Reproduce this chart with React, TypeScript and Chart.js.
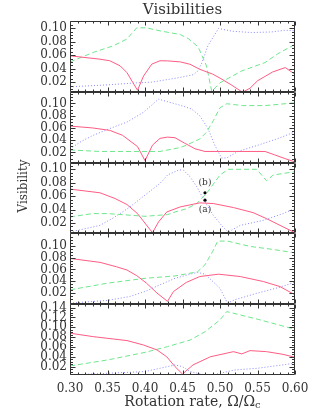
import React, { useEffect, useRef } from 'react';
import { Chart, registerables } from 'chart.js';
Chart.register(...registerables);

// ---------- data ----------
const xTickValues = [0.30, 0.35, 0.40, 0.45, 0.50, 0.55, 0.60];
const yTickValuesSmall = [0.02, 0.04, 0.06, 0.08, 0.10];
const yTickValuesLarge = [0.02, 0.04, 0.06, 0.08, 0.10, 0.12, 0.14];

const panelMin = [0.0057, 0.0034, 0.0045, 0.0012, 0.003];
const panelMax = [0.1106, 0.119, 0.110, 0.121, 0.147];

// panel 1
const p1RedX = [0.30, 0.32, 0.34, 0.353, 0.367, 0.376, 0.384, 0.39, 0.398, 0.409, 0.42, 0.43, 0.447, 0.46, 0.473, 0.49, 0.50, 0.515, 0.53, 0.54, 0.55, 0.57, 0.587, 0.60];
const p1RedY = [0.059, 0.0565, 0.054, 0.0517, 0.044, 0.034, 0.019, 0.008, 0.029, 0.0467, 0.0517, 0.0515, 0.050, 0.0465, 0.039, 0.032, 0.026, 0.016, 0.005, 0.011, 0.022, 0.035, 0.0416, 0.0316];
const p1GreenX = [0.30, 0.331, 0.358, 0.376, 0.389, 0.402, 0.42, 0.447, 0.458, 0.471, 0.482, 0.489, 0.50, 0.529, 0.56, 0.577, 0.60];
const p1GreenY = [0.050, 0.064, 0.074, 0.084, 0.1005, 0.1005, 0.096, 0.0905, 0.0844, 0.072, 0.044, 0.0064, 0.019, 0.0366, 0.049, 0.062, 0.076];
const p1BlueX = [0.30, 0.35, 0.389, 0.409, 0.447, 0.464, 0.470, 0.476, 0.484, 0.498, 0.516, 0.542, 0.569, 0.587, 0.60];
const p1BlueY = [0.013, 0.016, 0.019, 0.020, 0.027, 0.031, 0.036, 0.049, 0.0743, 0.0995, 0.0955, 0.0935, 0.0944, 0.097, 0.096];

// panel 2
const p2RedX = [0.30, 0.33, 0.353, 0.37, 0.39, 0.40, 0.41, 0.42, 0.43, 0.44, 0.453, 0.467, 0.48, 0.56, 0.573, 0.587, 0.60];
const p2RedY = [0.063, 0.060, 0.056, 0.048, 0.0296, 0.0066, 0.032, 0.043, 0.045, 0.044, 0.035, 0.0258, 0.0216, 0.0216, 0.016, 0.0098, 0.0045];
const p2GreenX = [0.30, 0.34, 0.42, 0.447, 0.455, 0.473, 0.482, 0.491, 0.50, 0.509, 0.53, 0.56, 0.60];
const p2GreenY = [0.024, 0.0216, 0.0216, 0.028, 0.0317, 0.042, 0.053, 0.0717, 0.093, 0.0995, 0.0965, 0.0965, 0.101];
const p2BlueX = [0.30, 0.315, 0.331, 0.353, 0.376, 0.398, 0.418, 0.447, 0.462, 0.473, 0.484, 0.493, 0.502, 0.509, 0.524, 0.551, 0.578, 0.60];
const p2BlueY = [0.026, 0.038, 0.048, 0.059, 0.0696, 0.0856, 0.107, 0.097, 0.091, 0.080, 0.059, 0.032, 0.011, 0.011, 0.0216, 0.032, 0.043, 0.0536];

// panel 3
const p3RedX = [0.30, 0.34, 0.36, 0.376, 0.39, 0.41, 0.418, 0.429, 0.447, 0.473, 0.491, 0.518, 0.544, 0.562, 0.58, 0.60];
const p3RedY = [0.0705, 0.065, 0.0565, 0.0475, 0.034, 0.0055, 0.0215, 0.0364, 0.044, 0.050, 0.049, 0.043, 0.0355, 0.0265, 0.0165, 0.0055];
const p3GreenX = [0.30, 0.33, 0.35, 0.40, 0.43, 0.44, 0.456, 0.469, 0.482, 0.50, 0.511, 0.549, 0.562, 0.571, 0.60];
const p3GreenY = [0.029, 0.034, 0.034, 0.030, 0.0325, 0.0364, 0.0415, 0.049, 0.064, 0.0915, 0.100, 0.100, 0.083, 0.0915, 0.0965];
const p3BlueX = [0.30, 0.34, 0.36, 0.38, 0.40, 0.42, 0.43, 0.445, 0.451, 0.46, 0.469, 0.48, 0.491, 0.504, 0.511, 0.527, 0.558, 0.584, 0.60];
const p3BlueY = [0.0065, 0.0165, 0.029, 0.044, 0.0615, 0.079, 0.0915, 0.099, 0.099, 0.089, 0.074, 0.0515, 0.0315, 0.014, 0.0065, 0.0165, 0.024, 0.034, 0.0415];
const markX = [0.48, 0.48];
const markY = [0.065, 0.054];
const markLabels = ['(b)', '(a)'];

// panel 4
const p4RedX = [0.30, 0.34, 0.362, 0.376, 0.389, 0.402, 0.416, 0.43, 0.438, 0.455, 0.473, 0.498, 0.527, 0.558, 0.58, 0.60];
const p4RedY = [0.0786, 0.072, 0.0645, 0.059, 0.0495, 0.0368, 0.020, 0.006, 0.0227, 0.038, 0.048, 0.052, 0.048, 0.0395, 0.031, 0.017];
const p4GreenX = [0.30, 0.35, 0.40, 0.44, 0.47, 0.48, 0.49, 0.497, 0.51, 0.54, 0.57, 0.60];
const p4GreenY = [0.0255, 0.0368, 0.045, 0.049, 0.056, 0.068, 0.090, 0.108, 0.108, 0.099, 0.094, 0.088];
const p4BlueX = [0.30, 0.35, 0.38, 0.40, 0.42, 0.44, 0.46, 0.47, 0.48, 0.50, 0.51, 0.52, 0.55, 0.58, 0.60];
const p4BlueY = [0.003, 0.0076, 0.0143, 0.0227, 0.034, 0.045, 0.052, 0.055, 0.052, 0.028, 0.003, 0.0088, 0.020, 0.030, 0.0385];

// panel 5
const p5RedX = [0.30, 0.331, 0.376, 0.398, 0.416, 0.429, 0.44, 0.45, 0.464, 0.487, 0.518, 0.529, 0.54, 0.562, 0.584, 0.60];
const p5RedY = [0.088, 0.081, 0.073, 0.064, 0.054, 0.040, 0.020, 0.005, 0.0235, 0.040, 0.0505, 0.0459, 0.0526, 0.0505, 0.045, 0.039];
const p5GreenX = [0.30, 0.35, 0.40, 0.43, 0.46, 0.48, 0.50, 0.509, 0.55, 0.60];
const p5GreenY = [0.0214, 0.0336, 0.049, 0.0607, 0.074, 0.091, 0.115, 0.132, 0.1165, 0.096];
const p5BlueX = [0.30, 0.40, 0.43, 0.44, 0.45, 0.46, 0.48, 0.49, 0.52, 0.55, 0.60];
const p5BlueY = [0.003, 0.010, 0.020, 0.0235, 0.020, 0.010, 0.003, 0.003, 0.0133, 0.0167, 0.027];

const titleText = 'Visibilities';
const yTitleText = 'Visibility';
const xTitleMain = 'Rotation rate, \u03A9/\u03A9';
const xTitleSub = 'c';

// ---------- styles ----------
const RED = '#ff5c84';
const GREEN = '#6ee68c';
const BLUE = '#8a8aff';
const INK = '#333333';
const FONT = 'DejaVu Serif';

const panelIds = ['p1', 'p2', 'p3', 'p4', 'p5'];
const series = [
  [p1RedX, p1RedY, p1GreenX, p1GreenY, p1BlueX, p1BlueY],
  [p2RedX, p2RedY, p2GreenX, p2GreenY, p2BlueX, p2BlueY],
  [p3RedX, p3RedY, p3GreenX, p3GreenY, p3BlueX, p3BlueY],
  [p4RedX, p4RedY, p4GreenX, p4GreenY, p4BlueX, p4BlueY],
  [p5RedX, p5RedY, p5GreenX, p5GreenY, p5BlueX, p5BlueY],
];

const zip = (xs: number[], ys: number[]) => xs.map((x, i) => ({ x, y: ys[i] }));

const framePlugin = {
  id: 'idlFrame',
  afterDatasetsDraw(chart: any) {
    const ctx = chart.ctx;
    const area = chart.chartArea;
    const xs = chart.scales.x;
    ctx.save();
    ctx.strokeStyle = INK;
    ctx.lineWidth = 1;
    const L = Math.round(area.left) + 0.5;
    const R = Math.round(area.right) - 0.5;
    panelIds.forEach((id) => {
      const s = chart.scales[id];
      const T = Math.round(s.top) + 0.5;
      const B = Math.round(s.bottom) - 0.5;
      ctx.beginPath();
      ctx.rect(L, T, R - L, B - T);
      ctx.stroke();
      ctx.beginPath();
      for (let i = 30; i <= 60; i++) {
        const px = Math.round(xs.getPixelForValue(i / 100)) + 0.5;
        const len = i % 5 === 0 ? 4 : 2;
        ctx.moveTo(px, B); ctx.lineTo(px, B - len);
        ctx.moveTo(px, T); ctx.lineTo(px, T + len);
      }
      const kMin = Math.ceil(s.min / 0.005 - 1e-9);
      const kMax = Math.floor(s.max / 0.005 + 1e-9);
      for (let k = kMin; k <= kMax; k++) {
        const py = Math.round(s.getPixelForValue(k * 0.005)) + 0.5;
        if (py <= T + 1 || py >= B - 1) continue;
        const len = k % 4 === 0 ? 5 : 2.5;
        ctx.moveTo(L, py); ctx.lineTo(L + len, py);
        ctx.moveTo(R, py); ctx.lineTo(R - len, py);
      }
      ctx.stroke();
    });
    const s3 = chart.scales.p3;
    ctx.fillStyle = INK;
    ctx.font = `9px "${FONT}"`;
    ctx.textAlign = 'center';
    ctx.textBaseline = 'middle';
    markLabels.forEach((lab, i) => {
      const px = xs.getPixelForValue(markX[i]);
      const py = s3.getPixelForValue(markY[i]);
      ctx.fillText(lab, px, py + (i === 0 ? -10 : 9));
    });
    ctx.restore();
  },
  afterDraw(chart: any) {
    const ctx = chart.ctx;
    const area = chart.chartArea;
    ctx.save();
    ctx.fillStyle = INK;
    ctx.textAlign = 'center';
    ctx.textBaseline = 'middle';
    const cx = (area.left + area.right) / 2;
    ctx.font = `15px "${FONT}"`;
    ctx.fillText(titleText, cx, 10);
    ctx.font = `14px "${FONT}"`;
    const wMain = ctx.measureText(xTitleMain).width;
    ctx.font = `10px "${FONT}"`;
    const wSub = ctx.measureText(xTitleSub).width;
    const startX = cx + 10 - (wMain + wSub) / 2;
    ctx.textAlign = 'left';
    ctx.font = `14px "${FONT}"`;
    ctx.fillText(xTitleMain, startX, 402);
    ctx.font = `10px "${FONT}"`;
    ctx.fillText(xTitleSub, startX + wMain, 405);
    const s3 = chart.scales.p3;
    ctx.translate(24, (s3.top + s3.bottom) / 2 - 12);
    ctx.rotate(-Math.PI / 2);
    ctx.textAlign = 'center';
    ctx.font = `12px "${FONT}"`;
    ctx.fillText(yTitleText, 0, 0);
    ctx.restore();
  },
};

export default function App() {
  const ref = useRef<HTMLCanvasElement>(null);
  useEffect(() => {
    if (!ref.current) return;
    const datasets: any[] = [];
    series.forEach((s, pi) => {
      const yAxisID = panelIds[pi];
      datasets.push({ data: zip(s[0], s[1]), borderColor: RED, borderWidth: 1, yAxisID, xAxisID: 'x' });
      datasets.push({ data: zip(s[2], s[3]), borderColor: GREEN, borderWidth: 1, borderDash: [5, 3], yAxisID, xAxisID: 'x' });
      datasets.push({ data: zip(s[4], s[5]), borderColor: BLUE, borderWidth: 1, borderDash: [1, 2], yAxisID, xAxisID: 'x' });
    });
    datasets.push({
      type: 'scatter', data: zip(markX, markY), yAxisID: 'p3', xAxisID: 'x',
      pointRadius: 1.6, pointBackgroundColor: '#000', pointBorderWidth: 0, showLine: false,
    });
    const scales: any = {
      x: {
        type: 'linear', position: 'bottom', min: 0.3, max: 0.6,
        grid: { display: false, drawTicks: false }, border: { display: false },
        ticks: { color: INK, font: { family: FONT, size: 12 }, padding: 7, maxRotation: 0, autoSkip: false, callback: (v: number) => v.toFixed(2) },
        afterBuildTicks: (sc: any) => { sc.ticks = xTickValues.map((v) => ({ value: v })); },
        afterFit: (sc: any) => { sc.height = 45; },
      },
    };
    panelIds.forEach((id, i) => {
      const tv = i === 4 ? yTickValuesLarge : yTickValuesSmall;
      scales[id] = {
        type: 'linear', position: 'left', stack: 'panels', stackWeight: 1, weight: 10 - i,
        min: panelMin[i], max: panelMax[i],
        grid: { display: false, drawTicks: false }, border: { display: false },
        ticks: { color: INK, font: { family: FONT, size: 12 }, padding: 3, autoSkip: false, callback: (v: number) => v.toFixed(2) },
        afterBuildTicks: (sc: any) => { sc.ticks = tv.map((v) => ({ value: v })); },
        afterFit: (sc: any) => { sc.width = 70; },
      };
    });
    const chart = new Chart(ref.current, {
      type: 'line',
      data: { datasets },
      options: {
        responsive: false,
        animation: false,
        layout: { padding: { top: 21, right: 21, bottom: 0, left: 0 } },
        elements: { point: { radius: 0 }, line: { tension: 0 } },
        plugins: { legend: { display: false }, tooltip: { enabled: false }, title: { display: false } },
        scales,
      },
      plugins: [framePlugin],
    } as any);
    return () => chart.destroy();
  }, []);
  return (
    <div style={{ position: 'absolute', left: 0, top: 0, width: 316, height: 420, background: '#fff' }}>
      <canvas ref={ref} width={316} height={420} />
    </div>
  );
}
